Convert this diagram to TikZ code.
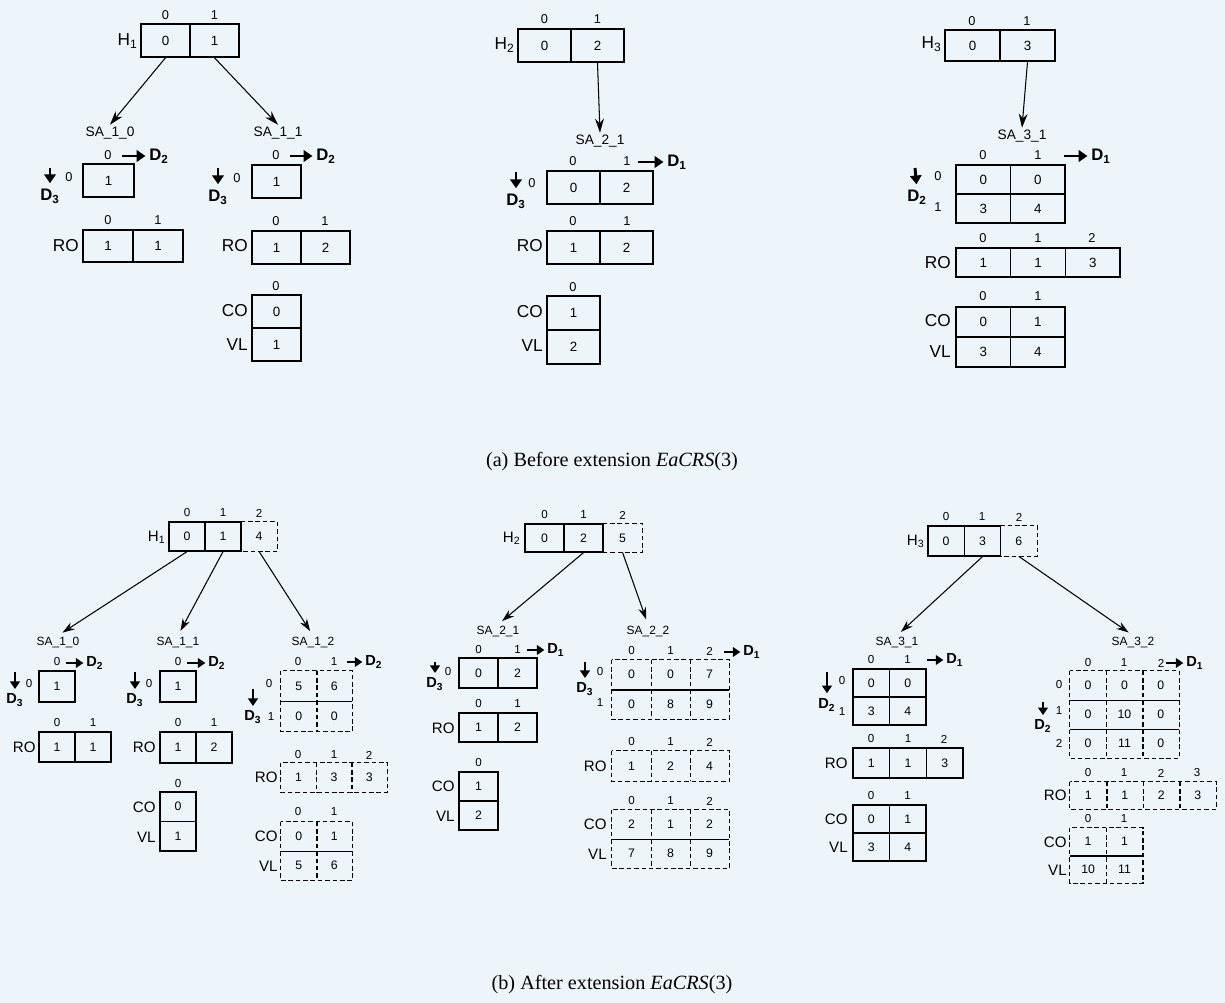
\documentclass[tikz,border=0pt]{standalone}
\usepackage{fontspec}
\setmainfont{Liberation Serif}
\newfontfamily\arial{Liberation Sans}
\usetikzlibrary{arrows.meta}
\definecolor{bg}{RGB}{237,245,250}
\newcommand\gridtab[7]{%
  \foreach \rr/\kk/\vv in {#7}{%
    \node[#6, minimum width=#4*0.02cm, minimum height=#5*0.02cm] (#1-\rr-\kk) at ({#2+(\kk+0.5)*#4},{#3+(\rr+0.5)*#5}) {\vv};
  }%
}
\newcommand\dframe[3]{\draw[dl] (#1-0-0.north west) rectangle (#1-#2-#3.south east);}
\newcommand\dvline[3]{\draw[dl] (#1-0-#3.north east) -- (#1-#2-#3.south east);}
\newcommand\shline[3]{\draw[sl] (#1-#2-0.south west) -- (#1-#2-#3.south east);}
\newcommand\dext[1]{\draw[dl] (#1.north west) -- (#1.north east) -- (#1.south east) -- (#1.south west);}
\tikzset{
 ca/.style={draw, line width=0.9pt, inner sep=0pt, font=\arial\fontsize{7.6}{8}\selectfont},
 cb/.style={draw, line width=0.75pt, inner sep=0pt, font=\arial\fontsize{7}{7}\selectfont},
 cbn/.style={inner sep=0pt, font=\arial\fontsize{7}{7}\selectfont},
 ixa/.style={inner sep=0pt, font=\arial\fontsize{7.3}{8}\selectfont},
 ixb/.style={inner sep=0pt, font=\arial\fontsize{6.6}{7}\selectfont},
 laba/.style={inner sep=0pt, anchor=east, font=\arial\fontsize{9.8}{10}\selectfont},
 labb/.style={inner sep=0pt, anchor=east, font=\arial\fontsize{8.6}{9}\selectfont},
 saa/.style={inner sep=1pt, font=\arial\fontsize{7.8}{8}\selectfont},
 sab/.style={inner sep=1pt, font=\arial\fontsize{6.8}{7}\selectfont},
 dima/.style={inner sep=0pt, font=\arial\bfseries\fontsize{9.5}{10}\selectfont},
 dimb/.style={inner sep=0pt, font=\arial\bfseries\fontsize{8.3}{9}\selectfont},
 conna/.style={-{Stealth[length=8pt,width=5pt]}, line width=0.6pt},
 connb/.style={-{Stealth[length=7pt,width=4.5pt]}, line width=0.6pt, shorten >=3pt},
 dira/.style={-{Triangle[length=5pt,width=6.5pt]}, line width=1.7pt},
 dirb/.style={-{Triangle[length=4.3pt,width=5.5pt]}, line width=1.4pt},
 dl/.style={dash pattern=on 2.6pt off 1.6pt, line width=0.75pt},
 sl/.style={line width=0.75pt},
 captxt/.style={inner sep=0pt, font=\fontsize{11.5}{13}\selectfont}
}
\begin{document}
\begin{tikzpicture}[x=0.02cm,y=-0.02cm]
\fill[bg] (0,0) rectangle (1225,1003);
\useasboundingbox (0,0) rectangle (1225,1003);

% ================= (a) column 1 =================
\gridtab{ha1}{141}{24}{49}{33}{ca}{0/0/0,0/1/1}
\node[ixa] (ha1i0) at (165.5,15) {0};
\node[ixa] (ha1i1) at (214.5,15) {1};
\node[laba] (ha1l) at (138,41) {H\textsubscript{1}};
\node[saa] (sa10l) at (110,133) {SA\_1\_0};
\node[saa] (sa11l) at (278,133) {SA\_1\_1};
\draw[conna] (ha1-0-0.south) -- (sa10l.north);
\draw[conna] (ha1-0-1.south) -- (sa11l.north);

\gridtab{sa10}{83}{164}{51}{33}{ca}{0/0/1}
\node[ixa] (sa10i0) at (108,155) {0};
\coordinate (sa10r) at (122,156);
\node[dima, anchor=west] (sa10d2) at (149,156) {D\textsubscript{2}};
\draw[dira, shorten >=2pt] (sa10r) -- (sa10d2.west);
\coordinate (sa10u) at (50,168);
\node[dima] (sa10d3) at (50,196) {D\textsubscript{3}};
\draw[dira, shorten >=3pt] (sa10u) -- (sa10d3.north);
\node[ixa] (sa10j0) at (69,177) {0};
\node[laba] (ro10l) at (79,246) {RO};
\gridtab{ro10}{83}{230}{50}{32}{ca}{0/0/1,0/1/1}
\node[ixa] (ro10i0) at (108,220) {0};
\node[ixa] (ro10i1) at (158,220) {1};

\gridtab{sa11}{252}{165}{49}{33}{ca}{0/0/1}
\node[ixa] (sa11i0) at (276,155) {0};
\coordinate (sa11r) at (290,156);
\node[dima, anchor=west] (sa11d2) at (316,156) {D\textsubscript{2}};
\draw[dira, shorten >=2pt] (sa11r) -- (sa11d2.west);
\coordinate (sa11u) at (218,168);
\node[dima] (sa11d3) at (218,197) {D\textsubscript{3}};
\draw[dira, shorten >=3pt] (sa11u) -- (sa11d3.north);
\node[ixa] (sa11j0) at (237,178) {0};
\node[laba] (ro11l) at (248,246) {RO};
\gridtab{ro11}{252}{231}{49}{33}{ca}{0/0/1,0/1/2}
\node[ixa] (ro11i0) at (276,221) {0};
\node[ixa] (ro11i1) at (325,221) {1};
\gridtab{cv11}{252}{295}{49}{33}{ca}{0/0/0,1/0/1}
\node[ixa] (cv11i0) at (276,286) {0};
\node[laba] (cv11c) at (248,311) {CO};
\node[laba] (cv11v) at (248,345) {VL};

% ================= (a) column 2 =================
\gridtab{ha2}{518}{29}{53}{33}{ca}{0/0/0,0/1/2}
\node[ixa] (ha2i0) at (544.5,19) {0};
\node[ixa] (ha2i1) at (597.5,19) {1};
\node[laba] (ha2l) at (515,45) {H\textsubscript{2}};
\node[saa] (sa21l) at (600,141) {SA\_2\_1};
\draw[conna] (ha2-0-1.south) -- (sa21l.north);
\gridtab{sa21}{547}{171}{53}{33}{ca}{0/0/0,0/1/2}
\node[ixa] (sa21i0) at (573,161) {0};
\node[ixa] (sa21i1) at (627,161) {1};
\coordinate (sa21r) at (638,162);
\node[dima, anchor=west] (sa21d1) at (667,162) {D\textsubscript{1}};
\draw[dira, shorten >=2pt] (sa21r) -- (sa21d1.west);
\coordinate (sa21u) at (516,172);
\node[dima] (sa21d3) at (516,201) {D\textsubscript{3}};
\draw[dira, shorten >=3pt] (sa21u) -- (sa21d3.north);
\node[ixa] (sa21j0) at (532,183) {0};
\node[laba] (ro21l) at (543,246) {RO};
\gridtab{ro21}{547}{231}{53}{33}{ca}{0/0/1,0/1/2}
\node[ixa] (ro21i0) at (573,221) {0};
\node[ixa] (ro21i1) at (627,221) {1};
\gridtab{cv21}{547}{296}{53}{34}{ca}{0/0/1,1/0/2}
\node[ixa] (cv21i0) at (573,287) {0};
\node[laba] (cv21c) at (543,312) {CO};
\node[laba] (cv21v) at (543,346) {VL};

% ================= (a) column 3 =================
\gridtab{ha3}{945}{30}{55}{31}{ca}{0/0/0,0/1/3}
\node[ixa] (ha3i0) at (972,21) {0};
\node[ixa] (ha3i1) at (1027,21) {1};
\node[laba] (ha3l) at (942,44) {H\textsubscript{3}};
\node[saa] (sa31l) at (1022,136) {SA\_3\_1};
\draw[conna] (ha3-0-1.south) -- (sa31l.north);
\gridtab{sa31}{956}{165}{54.5}{29}{ca}{0/0/0,0/1/0,1/0/3,1/1/4}
\node[ixa] (sa31i0) at (983,155) {0};
\node[ixa] (sa31i1) at (1038,155) {1};
\coordinate (sa31r) at (1064,156);
\node[dima, anchor=west] (sa31d1) at (1091,156) {D\textsubscript{1}};
\draw[dira, shorten >=2pt] (sa31r) -- (sa31d1.west);
\coordinate (sa31u) at (915,168);
\node[dima] (sa31d2) at (917,197) {D\textsubscript{2}};
\draw[dira, shorten >=3pt] (sa31u) -- (sa31d2.north);
\node[ixa] (sa31j0) at (938,176) {0};
\node[ixa] (sa31j1) at (938,207) {1};
\node[laba] (ro31l) at (951,263) {RO};
\gridtab{ro31}{956}{248}{54.7}{29}{ca}{0/0/1,0/1/1,0/2/3}
\node[ixa] (ro31i0) at (983,238) {0};
\node[ixa] (ro31i1) at (1038,238) {1};
\node[ixa] (ro31i2) at (1092,238) {2};
\gridtab{cv31}{956}{307}{54.5}{30}{ca}{0/0/0,0/1/1,1/0/3,1/1/4}
\node[ixa] (cv31i0) at (983,296) {0};
\node[ixa] (cv31i1) at (1038,296) {1};
\node[laba] (cv31c) at (951,321) {CO};
\node[laba] (cv31v) at (951,352) {VL};

\node[captxt] (capa) at (612,462) {(a) Before extension \textit{EaCRS}(3)};

% ================= (b) column 1 =================
\gridtab{hb1}{169}{522}{36}{29}{cb}{0/0/0,0/1/1}
\gridtab{hb1}{169}{522}{36}{29}{cbn}{0/2/4}
\dext{hb1-0-2}
\node[ixb] (hb1i0) at (187,513) {0};
\node[ixb] (hb1i1) at (223,513) {1};
\node[ixb] (hb1i2) at (259,513) {2};
\node[labb] (hb1l) at (166,537) {H\textsubscript{1}};
\node[sab] (sb10l) at (58,643) {SA\_1\_0};
\node[sab] (sb11l) at (178,643) {SA\_1\_1};
\node[sab] (sb12l) at (313,643) {SA\_1\_2};
\draw[connb] (hb1-0-0.south) -- (sb10l.north);
\draw[connb] (hb1-0-1.south) -- (sb11l.north);
\draw[connb] (hb1-0-2.south) -- (sb12l.north);

\gridtab{sb10}{39}{671}{36}{31}{cb}{0/0/1}
\node[ixb] (sb10i0) at (57,662) {0};
\coordinate (sb10r) at (66,663);
\node[dimb, anchor=west] (sb10d2) at (86,663) {D\textsubscript{2}};
\draw[dirb, shorten >=1.5pt] (sb10r) -- (sb10d2.west);
\coordinate (sb10u) at (15,672);
\node[dimb] (sb10d3) at (15,700) {D\textsubscript{3}};
\draw[dirb, shorten >=2.5pt] (sb10u) -- (sb10d3.north);
\node[ixb] (sb10j0) at (29,684) {0};
\gridtab{rb10}{39}{732}{36}{30}{cb}{0/0/1,0/1/1}
\node[ixb] (rb10i0) at (57,723) {0};
\node[ixb] (rb10i1) at (93,723) {1};
\node[labb] (rb10l) at (36,747) {RO};

\gridtab{sb11}{160}{671}{36}{31}{cb}{0/0/1}
\node[ixb] (sb11i0) at (178,662) {0};
\coordinate (sb11r) at (187,663);
\node[dimb, anchor=west] (sb11d2) at (208,663) {D\textsubscript{2}};
\draw[dirb, shorten >=1.5pt] (sb11r) -- (sb11d2.west);
\coordinate (sb11u) at (135,672);
\node[dimb] (sb11d3) at (135,700) {D\textsubscript{3}};
\draw[dirb, shorten >=2.5pt] (sb11u) -- (sb11d3.north);
\node[ixb] (sb11j0) at (149,684) {0};
\gridtab{rb11}{160}{732}{36}{31}{cb}{0/0/1,0/1/2}
\node[ixb] (rb11i0) at (178,723) {0};
\node[ixb] (rb11i1) at (214,723) {1};
\node[labb] (rb11l) at (156,747) {RO};
\gridtab{cvb11}{160}{792}{36}{29.5}{cb}{0/0/0,1/0/1}
\node[ixb] (cvb11i0) at (178,784) {0};
\node[labb] (cvb11c) at (156,807) {CO};
\node[labb] (cvb11v) at (156,837) {VL};

\gridtab{sb12}{281}{671}{35.5}{30}{cbn}{0/0/5,0/1/6,1/0/0,1/1/0}
\dframe{sb12}{1}{1}
\dvline{sb12}{1}{0}
\shline{sb12}{0}{1}
\node[ixb] (sb12i0) at (298,662) {0};
\node[ixb] (sb12i1) at (334,662) {1};
\coordinate (sb12r) at (347,662);
\node[dimb, anchor=west] (sb12d2) at (365,662) {D\textsubscript{2}};
\draw[dirb, shorten >=1.5pt] (sb12r) -- (sb12d2.west);
\coordinate (sb12u) at (253,689);
\node[dimb] (sb12d3) at (253,717) {D\textsubscript{3}};
\draw[dirb, shorten >=2.5pt] (sb12u) -- (sb12d3.north);
\node[ixb] (sb12j0) at (269,684) {0};
\node[ixb] (sb12j1) at (271,717) {1};
\gridtab{rb12}{281}{763}{35.3}{29}{cbn}{0/0/1,0/1/3,0/2/3}
\dframe{rb12}{0}{2}
\dvline{rb12}{0}{0}
\dvline{rb12}{0}{1}
\node[ixb] (rb12i0) at (298,755) {0};
\node[ixb] (rb12i1) at (334,755) {1};
\node[ixb] (rb12i2) at (369,755) {2};
\node[labb] (rb12l) at (278,777) {RO};
\gridtab{cvb12}{281}{822}{35.5}{29}{cbn}{0/0/0,0/1/1,1/0/5,1/1/6}
\dframe{cvb12}{1}{1}
\dvline{cvb12}{1}{0}
\shline{cvb12}{0}{1}
\node[ixb] (cvb12i0) at (298,812) {0};
\node[ixb] (cvb12i1) at (334,812) {1};
\node[labb] (cvb12c) at (278,836) {CO};
\node[labb] (cvb12v) at (278,866) {VL};

% ================= (b) column 2 =================
\gridtab{hb2}{525}{524}{39}{28}{cb}{0/0/0,0/1/2}
\gridtab{hb2}{525}{524}{39}{28}{cbn}{0/2/5}
\dext{hb2-0-2}
\node[ixb] (hb2i0) at (544.5,515) {0};
\node[ixb] (hb2i1) at (583.5,515) {1};
\node[ixb] (hb2i2) at (622.5,515) {2};
\node[labb] (hb2l) at (521,538) {H\textsubscript{2}};
\node[sab] (sb21l) at (498,632) {SA\_2\_1};
\node[sab] (sb22l) at (648,632) {SA\_2\_2};
\draw[connb] (hb2-0-1.south) -- (sb21l.north);
\draw[connb] (hb2-0-2.south) -- (sb22l.north);

\gridtab{sb21}{459}{658}{39}{30}{cb}{0/0/0,0/1/2}
\node[ixb] (sb21i0) at (478.5,650) {0};
\node[ixb] (sb21i1) at (517.5,650) {1};
\coordinate (sb21r) at (527,650);
\node[dimb, anchor=west] (sb21d1) at (547,650) {D\textsubscript{1}};
\draw[dirb, shorten >=1.5pt] (sb21r) -- (sb21d1.west);
\coordinate (sb21u) at (435,662);
\node[dimb] (sb21d3) at (435,684) {D\textsubscript{3}};
\draw[dirb, shorten >=2.5pt] (sb21u) -- (sb21d3.north);
\node[ixb] (sb21j0) at (448,672) {0};
\gridtab{rb21}{459}{713}{39}{29}{cb}{0/0/1,0/1/2}
\node[ixb] (rb21i0) at (478.5,704) {0};
\node[ixb] (rb21i1) at (517.5,704) {1};
\node[labb] (rb21l) at (455,728) {RO};
\gridtab{cvb21}{459}{772}{39}{29}{cb}{0/0/1,1/0/2}
\node[ixb] (cvb21i0) at (478.5,763) {0};
\node[labb] (cvb21c) at (455,786) {CO};
\node[labb] (cvb21v) at (455,816) {VL};

\gridtab{sb22}{612}{660}{39}{29.5}{cbn}{0/0/0,0/1/0,0/2/7,1/0/0,1/1/8,1/2/9}
\dframe{sb22}{1}{2}
\dvline{sb22}{1}{0}
\dvline{sb22}{1}{1}
\shline{sb22}{0}{2}
\node[ixb] (sb22i0) at (631.5,651) {0};
\node[ixb] (sb22i1) at (670.5,651) {1};
\node[ixb] (sb22i2) at (709.5,651) {2};
\coordinate (sb22r) at (724,652);
\node[dimb, anchor=west] (sb22d1) at (743,652) {D\textsubscript{1}};
\draw[dirb, shorten >=1.5pt] (sb22r) -- (sb22d1.west);
\coordinate (sb22u) at (585,662);
\node[dimb] (sb22d3) at (585,689) {D\textsubscript{3}};
\draw[dirb, shorten >=2.5pt] (sb22u) -- (sb22d3.north);
\node[ixb] (sb22j0) at (600,672) {0};
\node[ixb] (sb22j1) at (600,703) {1};
\gridtab{rb22}{612}{751}{39}{30}{cbn}{0/0/1,0/1/2,0/2/4}
\dframe{rb22}{0}{2}
\dvline{rb22}{0}{0}
\dvline{rb22}{0}{1}
\node[ixb] (rb22i0) at (631.5,742) {0};
\node[ixb] (rb22i1) at (670.5,742) {1};
\node[ixb] (rb22i2) at (709.5,742) {2};
\node[labb] (rb22l) at (607,766) {RO};
\gridtab{cvb22}{612}{810}{39}{29}{cbn}{0/0/2,0/1/1,0/2/2,1/0/7,1/1/8,1/2/9}
\dframe{cvb22}{1}{2}
\dvline{cvb22}{1}{0}
\dvline{cvb22}{1}{1}
\shline{cvb22}{0}{2}
\node[ixb] (cvb22i0) at (631.5,801) {0};
\node[ixb] (cvb22i1) at (670.5,801) {1};
\node[ixb] (cvb22i2) at (709.5,801) {2};
\node[labb] (cvb22c) at (607,824) {CO};
\node[labb] (cvb22v) at (607,854) {VL};

% ================= (b) column 3 =================
\gridtab{hb3}{928}{526}{36.3}{30}{cb}{0/0/0,0/1/3}
\gridtab{hb3}{928}{526}{36.3}{30}{cbn}{0/2/6}
\dext{hb3-0-2}
\node[ixb] (hb3i0) at (946,517) {0};
\node[ixb] (hb3i1) at (982,517) {1};
\node[ixb] (hb3i2) at (1019,517) {2};
\node[labb] (hb3l) at (925,541) {H\textsubscript{3}};
\node[sab] (sb31l) at (897,643) {SA\_3\_1};
\node[sab] (sb32l) at (1133,643) {SA\_3\_2};
\draw[connb] (hb3-0-1.south) -- (sb31l.north);
\draw[connb] (hb3-0-2.south) -- (sb32l.north);

\gridtab{sb31}{853}{669}{36.5}{28}{cb}{0/0/0,0/1/0,1/0/3,1/1/4}
\node[ixb] (sb31i0) at (871,660) {0};
\node[ixb] (sb31i1) at (907.5,660) {1};
\coordinate (sb31r) at (927,660);
\node[dimb, anchor=west] (sb31d1) at (946,660) {D\textsubscript{1}};
\draw[dirb, shorten >=1.5pt] (sb31r) -- (sb31d1.west);
\coordinate (sb31u) at (827,672);
\node[dimb] (sb31d2) at (827,705) {D\textsubscript{2}};
\draw[dirb, shorten >=3pt] (sb31u) -- (sb31d2.north);
\node[ixb] (sb31j0) at (842,681) {0};
\node[ixb] (sb31j1) at (842,712) {1};
\gridtab{rb31}{853}{748}{36.7}{30}{cb}{0/0/1,0/1/1,0/2/3}
\node[ixb] (rb31i0) at (871,739) {0};
\node[ixb] (rb31i1) at (908,739) {1};
\node[ixb] (rb31i2) at (944,739) {2};
\node[labb] (rb31l) at (848,763) {RO};
\gridtab{cvb31}{853}{805}{36.5}{28}{cb}{0/0/0,0/1/1,1/0/3,1/1/4}
\node[ixb] (cvb31i0) at (871,796) {0};
\node[ixb] (cvb31i1) at (907.5,796) {1};
\node[labb] (cvb31c) at (848,819) {CO};
\node[labb] (cvb31v) at (848,847) {VL};

\gridtab{sb32}{1070}{671}{36.3}{29}{cbn}{0/0/0,0/1/0,0/2/0,1/0/0,1/1/10,1/2/0,2/0/0,2/1/11,2/2/0}
\dframe{sb32}{2}{2}
\dvline{sb32}{2}{0}
\dvline{sb32}{2}{1}
\shline{sb32}{0}{2}
\shline{sb32}{1}{2}
\node[ixb] (sb32i0) at (1088,663) {0};
\node[ixb] (sb32i1) at (1124,663) {1};
\node[ixb] (sb32i2) at (1161,663) {2};
\coordinate (sb32r) at (1166,663);
\node[dimb, anchor=west] (sb32d1) at (1186,663) {D\textsubscript{1}};
\draw[dirb, shorten >=1.5pt] (sb32r) -- (sb32d1.west);
\coordinate (sb32u) at (1043,702);
\node[dimb] (sb32d2) at (1043,726) {D\textsubscript{2}};
\draw[dirb, shorten >=2.5pt] (sb32u) -- (sb32d2.north);
\node[ixb] (sb32j0) at (1059,685) {0};
\node[ixb] (sb32j1) at (1059,711) {1};
\node[ixb] (sb32j2) at (1059,743) {2};
\gridtab{rb32}{1070}{782}{36.5}{27}{cbn}{0/0/1,0/1/1,0/2/2,0/3/3}
\dframe{rb32}{0}{3}
\dvline{rb32}{0}{0}
\dvline{rb32}{0}{1}
\dvline{rb32}{0}{2}
\node[ixb] (rb32i0) at (1088,773) {0};
\node[ixb] (rb32i1) at (1124,773) {1};
\node[ixb] (rb32i2) at (1161,773) {2};
\node[ixb] (rb32i3) at (1197,773) {3};
\node[labb] (rb32l) at (1067,795) {RO};
\gridtab{cvb32}{1070}{828}{36.3}{27.5}{cbn}{0/0/1,0/1/1,1/0/10,1/1/11}
\dframe{cvb32}{1}{1}
\dvline{cvb32}{1}{0}
\shline{cvb32}{0}{1}
\node[ixb] (cvb32i0) at (1088,819) {0};
\node[ixb] (cvb32i1) at (1124,819) {1};
\node[labb] (cvb32c) at (1067,842) {CO};
\node[labb] (cvb32v) at (1067,870) {VL};

\node[captxt] (capb) at (612,985) {(b) After extension \textit{EaCRS}(3)};
\end{tikzpicture}
\end{document}
